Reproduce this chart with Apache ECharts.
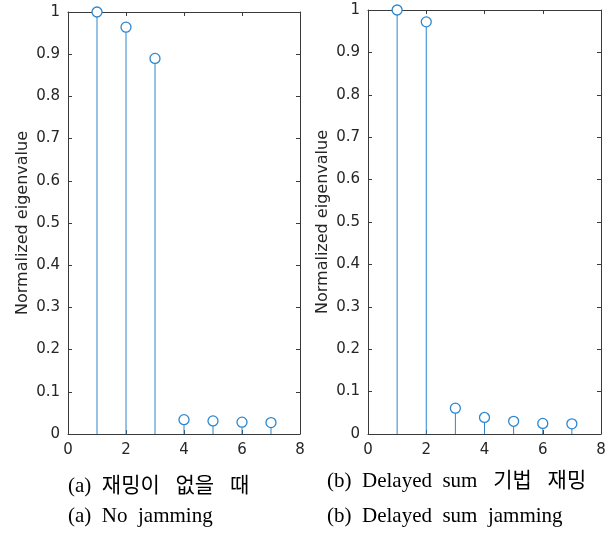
<!DOCTYPE html>
<html><head><meta charset="utf-8">
<script src="https://cdn.jsdelivr.net/npm/echarts@6/dist/echarts.min.js"></script>
<style>html,body{margin:0;padding:0;background:#fff}#c{width:609px;height:534px}</style>
</head><body><div id="c"></div>
<script>
const indices = [1, 2, 3, 4, 5, 6, 7];
const noJamming = [1.0, 0.964, 0.890, 0.034, 0.031, 0.028, 0.027];
const delayedSum = [1.0, 0.972, 0.061, 0.039, 0.030, 0.025, 0.024];
const yLabel = 'Normalized eigenvalue';
const captionsA = ['(a)  재밍이   없을   때', '(a)  No  jamming'];
const captionsB = ['(b)  Delayed  sum   기법   재밍', '(b)  Delayed  sum  jamming'];

const stemColor = '#2b87d1';
const axisColor = '#3a3a3a';
const labelFont = 'DejaVu Sans';

const chart = echarts.init(document.getElementById('c'));
const grids = [
  {left: 68, top: 12, width: 232, height: 422},
  {left: 368, top: 10, width: 233, height: 424}
];
function xAxes(i) {
  return [
    {type: 'value', gridIndex: i, min: 0, max: 8, interval: 2, position: 'bottom',
     axisLine: {show: true, lineStyle: {color: axisColor, width: 1}},
     axisTick: {show: true, inside: true, length: 4, lineStyle: {color: axisColor}},
     axisLabel: {color: '#262626', fontSize: 15, fontFamily: labelFont, margin: 9},
     splitLine: {show: false}},
    {type: 'value', gridIndex: i, min: 0, max: 8, interval: 2, position: 'top',
     axisLine: {show: true, onZero: false, lineStyle: {color: axisColor, width: 1}},
     axisTick: {show: true, inside: true, length: 4, lineStyle: {color: axisColor}},
     axisLabel: {show: false}, splitLine: {show: false}}
  ];
}
function yAxes(i) {
  return [
    {type: 'value', gridIndex: i, min: 0, max: 1, interval: 0.1, position: 'left',
     name: yLabel, nameLocation: 'middle', nameGap: 37,
     nameTextStyle: {color: '#262626', fontSize: 16, fontFamily: labelFont},
     axisLine: {show: true, lineStyle: {color: axisColor, width: 1}},
     axisTick: {show: true, inside: true, length: 4, lineStyle: {color: axisColor}},
     axisLabel: {color: '#262626', fontSize: 15, fontFamily: labelFont, margin: 8},
     splitLine: {show: false}},
    {type: 'value', gridIndex: i, min: 0, max: 1, interval: 0.1, position: 'right',
     axisLine: {show: true, onZero: false, lineStyle: {color: axisColor, width: 1}},
     axisTick: {show: true, inside: true, length: 4, lineStyle: {color: axisColor}},
     axisLabel: {show: false}, splitLine: {show: false}}
  ];
}
function stemSeries(vals, i) {
  const data = indices.map((x, k) => [x, vals[k]]);
  return [
    {type: 'custom', xAxisIndex: 2 * i, yAxisIndex: 2 * i, data: data, silent: true, clip: false,
     renderItem: function (params, api) {
       const p0 = api.coord([api.value(0), 0]);
       const p1 = api.coord([api.value(0), api.value(1)]);
       return {type: 'line', shape: {x1: p0[0], y1: p0[1], x2: p1[0], y2: p1[1]},
               style: {stroke: stemColor, lineWidth: 1}};
     }},
    {type: 'scatter', xAxisIndex: 2 * i, yAxisIndex: 2 * i, data: data, clip: false,
     symbol: 'circle', symbolSize: 10, z: 5,
     itemStyle: {color: '#ffffff', borderColor: stemColor, borderWidth: 1.3, opacity: 1}}
  ];
}
const capStyle = {fill: '#000', fontSize: 21, fontFamily: "'Liberation Serif', 'Noto Sans CJK KR', serif"};
chart.setOption({
  animation: false,
  grid: grids,
  xAxis: [...xAxes(0), ...xAxes(1)],
  yAxis: [...yAxes(0), ...yAxes(1)],
  series: [...stemSeries(noJamming, 0), ...stemSeries(delayedSum, 1)],
  graphic: [
    {type: 'text', left: 68, top: 476, style: Object.assign({text: captionsA[0]}, capStyle)},
    {type: 'text', left: 68, top: 506, style: Object.assign({text: captionsA[1]}, capStyle)},
    {type: 'text', left: 327, top: 471, style: Object.assign({text: captionsB[0]}, capStyle)},
    {type: 'text', left: 327, top: 506, style: Object.assign({text: captionsB[1]}, capStyle)}
  ]
});
</script></body></html>
